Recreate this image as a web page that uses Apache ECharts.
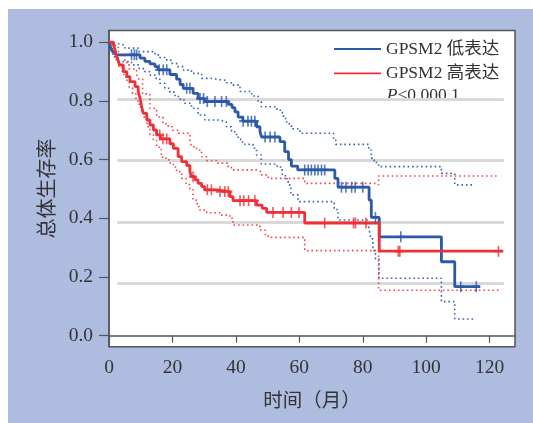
<!DOCTYPE html>
<html>
<head>
<meta charset="utf-8">
<script src="https://cdn.jsdelivr.net/npm/echarts@6/dist/echarts.min.js"></script>
<style>
html, body { margin: 0; padding: 0; background: #fff; }
#chart {
	width: 533px; height: 423px;
	background: linear-gradient(#aebcdf, #aebcdf) 8px 9px / 525px 414px no-repeat, #fff;
}
</style>
</head>
<body>
<div id="chart"></div>
<script>
// KM curves: [month, survival] at each drop
var lowCurve = [[0,1],[0.6,0.98],[1.2,0.967],[2,0.957],[9.8,0.946],[11.3,0.935],[12.9,0.926],[14.5,0.917],[15.5,0.906],[19.2,0.89],[21.3,0.874],[22.4,0.856],[23.4,0.843],[26.5,0.826],[28.1,0.808],[30.2,0.798],[37.6,0.788],[38.8,0.777],[39.7,0.763],[40.7,0.745],[42.2,0.731],[46.5,0.712],[47.6,0.695],[48.1,0.677],[53.9,0.661],[55.4,0.627],[56.6,0.6],[57.5,0.578],[59.5,0.565],[71.2,0.536],[72.2,0.506],[82,0.462],[82.7,0.403],[85.2,0.337],[104.8,0.252],[109,0.167],[117,0.167]];
var highCurve = [[0,1],[1.4,0.99],[1.9,0.974],[2.4,0.951],[2.8,0.94],[3.3,0.923],[4.5,0.9],[5.6,0.883],[6.6,0.866],[8.2,0.849],[9.2,0.832],[9.8,0.809],[10.3,0.78],[10.8,0.758],[11.9,0.735],[12.9,0.718],[14,0.701],[15,0.684],[16.2,0.671],[19.2,0.654],[20.3,0.638],[21.8,0.61],[22.9,0.593],[24.5,0.58],[25.5,0.559],[26,0.542],[27.1,0.531],[28.1,0.519],[29.2,0.508],[30.2,0.497],[33.9,0.491],[38.1,0.474],[39.1,0.46],[46.5,0.445],[48.3,0.434],[49.7,0.42],[61.7,0.384],[85.2,0.288],[124.3,0.288]];

// 95% CI bands
var lowUpper = [[0,1],[1,0.995],[3,0.99],[5,0.98],[9.2,0.968],[14.5,0.957],[16,0.948],[17.6,0.94],[19.5,0.928],[21.3,0.917],[23.5,0.905],[26,0.894],[29.2,0.877],[32,0.872],[35,0.87],[37,0.862],[38.6,0.854],[41.3,0.832],[45,0.817],[47,0.798],[48,0.78],[52.3,0.772],[54,0.76],[55,0.74],[56,0.722],[57.5,0.705],[60.2,0.69],[70.8,0.667],[71.5,0.652],[81.9,0.633],[82.7,0.605],[83.6,0.59],[85,0.576],[104.8,0.553],[109,0.514],[114.8,0.514]];
var lowLower = [[0,1],[0.5,0.97],[1.2,0.95],[2.9,0.934],[7.1,0.923],[9.5,0.91],[11.3,0.9],[13,0.888],[14.5,0.877],[16,0.86],[17.6,0.843],[19.2,0.83],[20.8,0.815],[22.5,0.803],[23.9,0.792],[26,0.775],[28.1,0.752],[30.2,0.735],[34.4,0.729],[37,0.712],[38.6,0.695],[40.2,0.676],[41.5,0.66],[42.8,0.652],[45.4,0.639],[46.5,0.616],[48,0.585],[53,0.575],[54.6,0.55],[55.6,0.535],[56.5,0.514],[57.3,0.48],[59.6,0.457],[71,0.43],[72.2,0.394],[81.9,0.37],[82.5,0.33],[83.2,0.29],[84,0.262],[85.1,0.196],[104.8,0.116],[109,0.057],[115.5,0.057]];
var highUpper = [[0,1],[1,0.99],[2,0.983],[3,0.965],[3.6,0.955],[5,0.93],[6.3,0.909],[8.7,0.89],[9.2,0.875],[10.6,0.824],[12.9,0.775],[15,0.745],[17,0.722],[18.7,0.712],[20,0.7],[21.8,0.69],[25.5,0.667],[26,0.644],[27.6,0.633],[29.2,0.61],[30.8,0.597],[33.9,0.588],[37.6,0.575],[38.6,0.565],[46.5,0.559],[48,0.548],[50.2,0.536],[61.7,0.519],[84.3,0.514],[85,0.544],[122.2,0.544]];
var highLower = [[0,1],[1,0.975],[1.5,0.96],[2.3,0.94],[3.1,0.915],[4.2,0.89],[5.3,0.87],[6.4,0.845],[7.4,0.824],[8.5,0.8],[9.5,0.779],[10.3,0.76],[11.1,0.739],[12,0.712],[12.9,0.685],[14,0.665],[15,0.642],[16.5,0.608],[18,0.599],[19.2,0.588],[20.3,0.575],[21.3,0.559],[22.9,0.536],[24.3,0.515],[25.5,0.5],[26.5,0.462],[27.8,0.44],[28.7,0.428],[30.8,0.419],[35,0.411],[38.1,0.4],[39.1,0.377],[47.6,0.36],[49.2,0.345],[50.2,0.335],[61.7,0.29],[85,0.155],[123.2,0.155]];

// censored times (months)
var lowCensor = [7.1,8,8.7,15.8,17.1,18.2,24.5,25.5,28.7,29.8,31,33.4,35.5,37,42.3,43.8,44.9,46,49.2,50.8,52.3,61.7,62.8,63.8,64.9,65.9,67,68,73.3,74.7,76.5,77.6,80,84,92,110.9,115.8];
var highCensor = [16,17,18.2,26.5,31,32.3,35,36.5,37.6,41.3,42.5,44,46,51.7,54.9,57.5,59.9,68,77.1,77.7,81,91.2,91.7,122.8];

var xTicks = [0,20,40,60,80,100,120];
var yTicks = [0,0.2,0.4,0.6,0.8,1.0];
var refLines = [0.806,0.598,0.388,0.179];

var blue = '#2c59a8', red = '#ef3036';
var serif = "'Liberation Serif', 'Noto Sans CJK SC', serif";
var cjk = "'Noto Sans CJK SC', sans-serif";

var survivalAt = function(curve, t) {
	var s = curve[0][1];
	for (var i = 0; i < curve.length; i++) {
		if (curve[i][0] <= t) s = curve[i][1];
	}
	return s;
};
var censorPoints = function(curve, times) {
	return times.map(function(t) { return [t, survivalAt(curve, t)]; });
};

var plus = 'path://M4,0h2v4h4v2h-4v4h-2v-4h-4v-2h4z';

var ciSeries = function(data, color) {
	return {
		type : 'line', step : 'end', data : data, symbol : 'none', silent : true, z : 2,
		lineStyle : { color : color, width : 1.6, type : [1.6, 2.9] }
	};
};

var chart = echarts.init(document.getElementById('chart'));
var option = {
	animation : false,
	grid : {
		left : 109, right : 18, top : 30.5, bottom : 76.3,
		show : true, backgroundColor : '#fff', borderColor : '#555', borderWidth : 1.5
	},
	legend : {
		data : [ 'GPSM2 低表达', 'GPSM2 高表达' ],
		orient : 'vertical', left : 334, top : 39, padding : 0,
		icon : 'rect', itemWidth : 47, itemHeight : 1.8, itemGap : 4.3,
		textStyle : { fontFamily : serif, fontSize : 17.5, lineHeight : 20, color : '#333' }
	},
	graphic : [ {
		type : 'text', left : 386.7, top : 87,
		style : {
			text : '{i|P}<0.000 1', fill : '#333', fontFamily : serif, fontSize : 17.5,
			rich : { i : { fontStyle : 'italic', fontFamily : serif, fontSize : 17.5, fill : '#333' } }
		}
	} ],
	xAxis : {
		type : 'value', min : 0, max : 128,
		name : '时间（月）', nameLocation : 'middle', nameGap : 43,
		nameTextStyle : { fontFamily : cjk, fontSize : 19.5, color : '#333' },
		axisLine : { show : true, lineStyle : { color : '#555', width : 1.5 } },
		axisTick : { show : true, length : 7, customValues : xTicks, lineStyle : { color : '#555', width : 1.2 } },
		axisLabel : { customValues : xTicks, margin : 11, fontFamily : serif, fontSize : 19.5, color : '#333' },
		splitLine : { show : false }
	},
	yAxis : {
		type : 'value', min : -0.0375, max : 1.04,
		name : '总体生存率', nameLocation : 'middle', nameGap : 53, nameRotate : 90,
		nameTextStyle : { fontFamily : cjk, fontSize : 20, color : '#333' },
		axisLine : { show : true, lineStyle : { color : '#555', width : 1.5 } },
		axisTick : { show : true, length : 10, customValues : yTicks, lineStyle : { color : '#555', width : 1.2 } },
		axisLabel : {
			customValues : yTicks, margin : 16, fontFamily : serif, fontSize : 19.5, color : '#333',
			formatter : function(v) { return v.toFixed(1); }
		},
		splitLine : { show : false }
	},
	series : [ {
		type : 'line', data : [], silent : true, z : 1,
		markLine : {
			silent : true, z : 1, symbol : [ 'none', 'none' ], label : { show : false },
			lineStyle : { color : '#d9d9d9', width : 3, type : 'solid' },
			data : refLines.map(function(v) { return [ { coord : [ 2.6, v ] }, { coord : [ 124.5, v ] } ]; })
		}
	},
	ciSeries(lowUpper, '#3a63b3'), ciSeries(lowLower, '#3a63b3'),
	ciSeries(highUpper, '#f0474c'), ciSeries(highLower, '#f0474c'),
	{
		name : 'GPSM2 低表达', type : 'line', step : 'end', data : lowCurve, symbol : 'none', z : 3,
		color : blue, lineStyle : { color : blue, width : 2.8 }
	}, {
		name : 'GPSM2 高表达', type : 'line', step : 'end', data : highCurve, symbol : 'none', z : 3,
		color : red, lineStyle : { color : red, width : 2.8 }
	}, {
		type : 'scatter', data : censorPoints(lowCurve, lowCensor), symbol : plus, symbolSize : [ 8, 11 ],
		z : 4, itemStyle : { color : blue }
	}, {
		type : 'scatter', data : censorPoints(highCurve, highCensor), symbol : plus, symbolSize : [ 8, 11 ],
		z : 4, itemStyle : { color : red }
	} ]
};
chart.setOption(option);
</script>
</body>
</html>
